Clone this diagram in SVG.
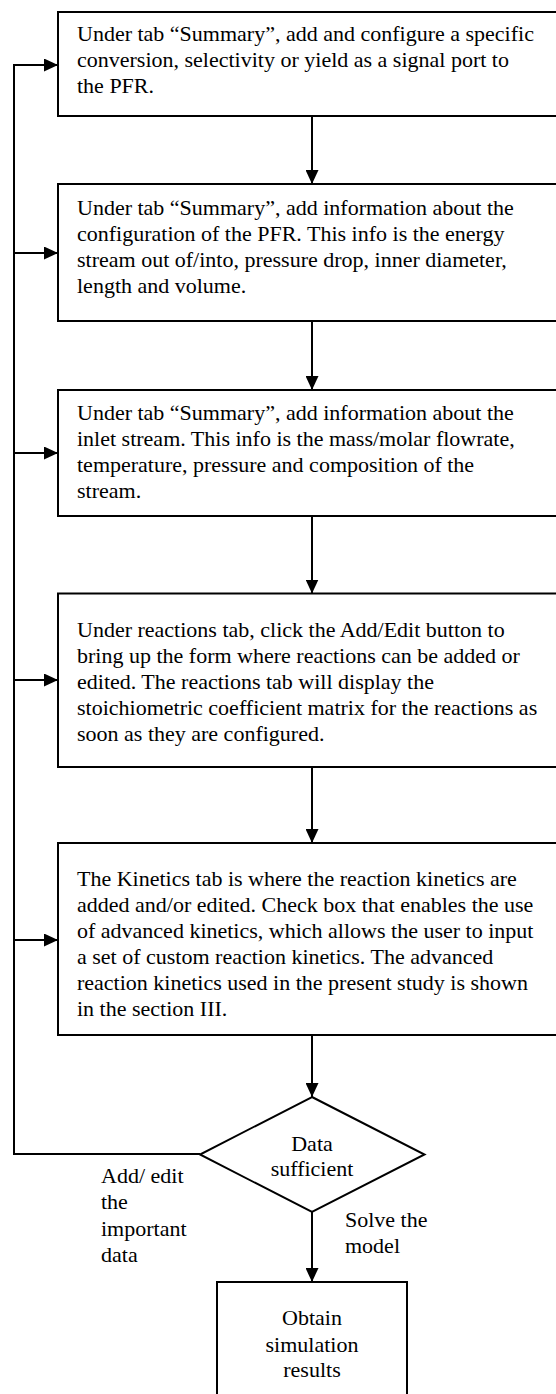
<svg xmlns="http://www.w3.org/2000/svg" width="556" height="1394" viewBox="0 0 556 1394">
<style>
.box{fill:#fff;stroke:#000;stroke-width:2}
.t{font-family:'Liberation Serif',Tinos,'Times New Roman','Nimbus Roman','DejaVu Serif',serif;font-size:22px;fill:#000}
.c{text-anchor:middle}
.ln{fill:none;stroke:#000;stroke-width:2}
</style>
<defs>
<marker id="ah" markerUnits="userSpaceOnUse" markerWidth="14" markerHeight="13" refX="14" refY="6.5" orient="auto">
<path d="M0,0 L14,6.5 L0,13 z" fill="#000"/>
</marker>
</defs>
<rect width="556" height="1394" fill="#fff"/>
<g id="connectors">
<line class="ln" x1="312" y1="116" x2="312" y2="184" marker-end="url(#ah)"/>
<line class="ln" x1="312" y1="321" x2="312" y2="390" marker-end="url(#ah)"/>
<line class="ln" x1="312" y1="516" x2="312" y2="593.5" marker-end="url(#ah)"/>
<line class="ln" x1="312" y1="767" x2="312" y2="843" marker-end="url(#ah)"/>
<line class="ln" x1="312" y1="1035" x2="312" y2="1097" marker-end="url(#ah)"/>
<line class="ln" x1="312" y1="1212" x2="312" y2="1282" marker-end="url(#ah)"/>
<path class="ln" d="M200,1154 H14 V65 H58" marker-end="url(#ah)"/>
<line class="ln" x1="14" y1="253" x2="58" y2="253" marker-end="url(#ah)"/>
<line class="ln" x1="14" y1="453" x2="58" y2="453" marker-end="url(#ah)"/>
<line class="ln" x1="14" y1="680" x2="58" y2="680" marker-end="url(#ah)"/>
<line class="ln" x1="14" y1="940" x2="58" y2="940" marker-end="url(#ah)"/>
</g>
<g id="step1">
<rect class="box" x="58" y="12" width="520" height="104"/>
<text class="t" font-family="Liberation Serif, Times New Roman, serif"><tspan x="77" y="41">Under tab “Summary”, add and configure a specific</tspan><tspan x="77" y="67">conversion, selectivity or yield as a signal port to</tspan><tspan x="77" y="93">the PFR.</tspan></text>
</g>
<g id="step2">
<rect class="box" x="58" y="184" width="520" height="137"/>
<text class="t" font-family="Liberation Serif, Times New Roman, serif"><tspan x="77" y="215">Under tab “Summary”, add information about the</tspan><tspan x="77" y="241">configuration of the PFR. This info is the energy</tspan><tspan x="77" y="267">stream out of/into, pressure drop, inner diameter,</tspan><tspan x="77" y="293">length and volume.</tspan></text>
</g>
<g id="step3">
<rect class="box" x="58" y="390" width="520" height="126"/>
<text class="t" font-family="Liberation Serif, Times New Roman, serif"><tspan x="77" y="420">Under tab “Summary”, add information about the</tspan><tspan x="77" y="446">inlet stream. This info is the mass/molar flowrate,</tspan><tspan x="77" y="472">temperature, pressure and composition of the</tspan><tspan x="77" y="498">stream.</tspan></text>
</g>
<g id="step4">
<rect class="box" x="58" y="593.5" width="520" height="173.5"/>
<text class="t" font-family="Liberation Serif, Times New Roman, serif"><tspan x="77" y="637">Under reactions tab, click the Add/Edit button to</tspan><tspan x="77" y="663">bring up the form where reactions can be added or</tspan><tspan x="77" y="689">edited. The reactions tab will display the</tspan><tspan x="77" y="715">stoichiometric coefficient matrix for the reactions as</tspan><tspan x="77" y="741">soon as they are configured.</tspan></text>
</g>
<g id="step5">
<rect class="box" x="58" y="843" width="520" height="192"/>
<text class="t" font-family="Liberation Serif, Times New Roman, serif"><tspan x="77" y="886">The Kinetics tab is where the reaction kinetics are</tspan><tspan x="77" y="912">added and/or edited. Check box that enables the use</tspan><tspan x="77" y="938">of advanced kinetics, which allows the user to input</tspan><tspan x="77" y="964">a set of custom reaction kinetics. The advanced</tspan><tspan x="77" y="990">reaction kinetics used in the present study is shown</tspan><tspan x="77" y="1016">in the section III.</tspan></text>
</g>
<g id="decision">
<polygon class="box" points="312,1097 424.5,1154.5 312,1212 200,1154.5"/>
<text class="t c" font-family="Liberation Serif, Times New Roman, serif"><tspan x="312" y="1151">Data</tspan><tspan x="312" y="1176">sufficient</tspan></text>
</g>
<g id="label-no">
<text class="t" font-family="Liberation Serif, Times New Roman, serif"><tspan x="101" y="1183">Add/ edit</tspan><tspan x="101" y="1209">the</tspan><tspan x="101" y="1236">important</tspan><tspan x="101" y="1262">data</tspan></text>
</g>
<g id="label-yes">
<text class="t" font-family="Liberation Serif, Times New Roman, serif"><tspan x="345" y="1227">Solve the</tspan><tspan x="345" y="1253">model</tspan></text>
</g>
<g id="result">
<rect class="box" x="217" y="1282" width="190" height="130"/>
<text class="t c" font-family="Liberation Serif, Times New Roman, serif"><tspan x="312" y="1325">Obtain</tspan><tspan x="312" y="1352">simulation</tspan><tspan x="312" y="1377">results</tspan></text>
</g>
</svg>
